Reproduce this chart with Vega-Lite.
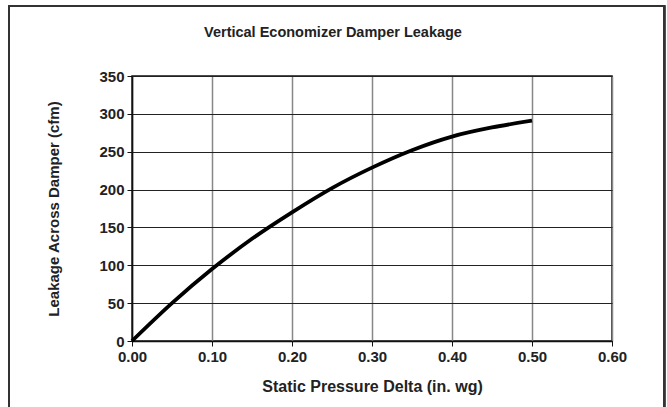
{
  "$schema": "https://vega.github.io/schema/vega-lite/v6.json",
  "autosize": {"type": "none"},
  "width": 480,
  "height": 265,
  "padding": {"left": 132, "top": 76, "right": 55, "bottom": 66},
  "background": "white",
  "title": {
    "text": "Vertical Economizer Damper Leakage",
    "font": "Liberation Sans",
    "fontSize": 14.5,
    "fontWeight": "bold",
    "color": "#222",
    "anchor": "middle",
    "frame": "group",
    "dx": -39,
    "dy": 46,
    "baseline": "alphabetic",
    "offset": 0
  },
  "data": {
    "values": [
      {"pressure": 0.0, "leakage": 0},
      {"pressure": 0.05, "leakage": 50},
      {"pressure": 0.1, "leakage": 95},
      {"pressure": 0.15, "leakage": 135},
      {"pressure": 0.2, "leakage": 170},
      {"pressure": 0.25, "leakage": 202},
      {"pressure": 0.3, "leakage": 229},
      {"pressure": 0.35, "leakage": 252},
      {"pressure": 0.4, "leakage": 270},
      {"pressure": 0.45, "leakage": 282},
      {"pressure": 0.5, "leakage": 291}
    ]
  },
  "layer": [
    {
      "mark": {"type": "line", "color": "black", "strokeWidth": 3.8, "interpolate": "monotone", "strokeCap": "butt"},
      "encoding": {
        "x": {
          "field": "pressure",
          "type": "quantitative",
          "scale": {"domain": [0, 0.6], "nice": false, "zero": false},
          "axis": {
            "title": "Static Pressure Delta (in. wg)",
            "values": [0, 0.1, 0.2, 0.3, 0.4, 0.5, 0.6],
            "format": ".2f"
          }
        },
        "y": {
          "field": "leakage",
          "type": "quantitative",
          "scale": {"domain": [0, 350], "nice": false, "zero": false},
          "axis": {
            "title": "Leakage Across Damper  (cfm)",
            "values": [0, 50, 100, 150, 200, 250, 300, 350]
          }
        }
      }
    },
    {
      "mark": {"type": "rect", "fill": null, "fillOpacity": 0, "stroke": "#333", "strokeWidth": 1.5, "clip": false},
      "encoding": {
        "x": {
          "datum": -0.1535,
          "type": "quantitative",
          "axis": {
            "title": "Static Pressure Delta (in. wg)",
            "values": [0, 0.1, 0.2, 0.3, 0.4, 0.5, 0.6],
            "format": ".2f"
          }
        },
        "x2": {"datum": 0.6655},
        "y": {
          "datum": 442.5,
          "type": "quantitative",
          "axis": {
            "title": "Leakage Across Damper  (cfm)",
            "values": [0, 50, 100, 150, 200, 250, 300, 350]
          }
        },
        "y2": {"datum": -110}
      }
    }
  ],
  "config": {
    "view": {"stroke": "#111", "strokeWidth": 1.5},
    "axis": {
      "grid": true,
      "gridOpacity": 1,
      "domainColor": "#111",
      "domainWidth": 1.5,
      "tickColor": "#111",
      "tickSize": 5,
      "tickWidth": 1,
      "labelFont": "Liberation Sans",
      "labelFontSize": 15,
      "labelFontWeight": "bold",
      "labelColor": "#222",
      "labelPadding": 3,
      "labelFlush": false,
      "labelOverlap": false,
      "titleFont": "Liberation Sans",
      "titleFontSize": 15,
      "titleFontWeight": "bold",
      "titleColor": "#222"
    },
    "axisX": {
      "gridColor": "#888",
      "gridWidth": 1.5,
      "titleFontSize": 16,
      "titlePadding": 14
    },
    "axisY": {
      "gridColor": "#222",
      "gridWidth": 1,
      "titlePadding": 37
    }
  }
}
